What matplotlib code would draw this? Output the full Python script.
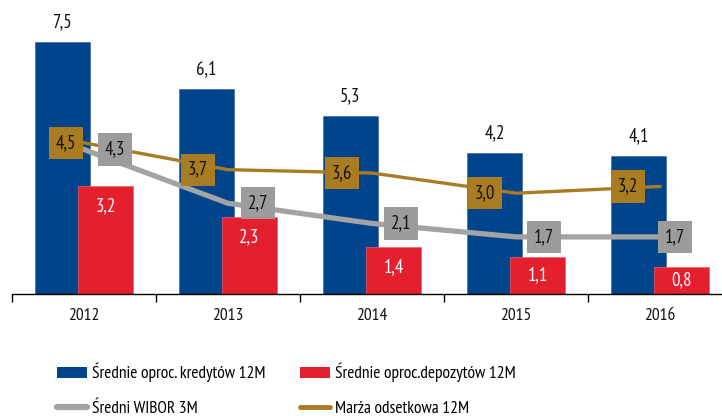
import matplotlib
matplotlib.use("Agg")
import matplotlib.pyplot as plt
from matplotlib.patches import Patch
from matplotlib.lines import Line2D

plt.rcParams['font.family'] = ['PT Sans Narrow', 'DejaVu Sans']

# === Data ===
years = ["2012", "2013", "2014", "2015", "2016"]
kredyty = [7.5, 6.1, 5.3, 4.2, 4.1]      # Średnie oproc. kredytów 12M
depozyty = [3.2, 2.3, 1.4, 1.1, 0.8]     # Średnie oproc. depozytów 12M
wibor = [4.3, 2.7, 2.1, 1.7, 1.7]        # Średni WIBOR 3M
marza = [4.5, 3.7, 3.6, 3.0, 3.2]        # Marża odsetkowa 12M

names = ["Średnie oproc. kredytów 12M", "Średni WIBOR 3M",
         "Średnie oproc.depozytów 12M", "Marża odsetkowa 12M"]

# === Colours ===
c_blue = '#00448b'
c_red = '#e4202f'
c_grey = '#a3a3a3'
c_grey_box = '#9c9c9c'
c_gold = '#a97c22'

# label shifts (pixels) for the value boxes on the lines
gold_dx = [-18, -30, -30, -31, -32]
grey_dx = [31, 30, 29, 28, 15]

fig = plt.figure(figsize=(7.22, 4.16), dpi=100)
ax = fig.add_axes([12 / 722, 122 / 416, 720 / 722, 285.6 / 416])

x = list(range(len(years)))
w = 0.38
xb = [i - 0.15 for i in x]
xr = [i + 0.15 for i in x]

ax.bar(xb, kredyty, width=w, color=c_blue, edgecolor='#3d6aa8', linewidth=0.5, zorder=1)
ax.bar(xr, depozyty, width=w, color=c_red, edgecolor='#f06070', linewidth=0.5, zorder=2)

ax.plot(x, wibor, color=c_grey, linewidth=3.8, zorder=3)
ax.plot(x, marza, color=c_gold, linewidth=2.4, zorder=4)

fs = 12.5      # axis / legend text
fv = 13.5      # value labels
fmt = lambda v: f"{v:.1f}".replace('.', ',')

for xi, v in zip(xb, kredyty):
    ax.annotate(fmt(v), (xi, v), xytext=(0, 20), textcoords='offset pixels',
                ha='center', va='center', fontsize=fv, color='#111111')

for xi, v in zip(xr, depozyty):
    yl = max(v / 2, v - 0.6)
    ax.text(xi, yl, fmt(v), ha='center', va='center', fontsize=fv, color='white', zorder=6)

for xi, v, dx in zip(x, marza, gold_dx):
    ax.annotate(fmt(v), (xi, v), xytext=(dx, 0), textcoords='offset pixels',
                ha='center', va='center', fontsize=fv, color='#111111', zorder=6,
                bbox=dict(boxstyle='square,pad=0.38', fc=c_gold, ec='none'))

for xi, v, dx in zip(x, wibor, grey_dx):
    ax.annotate(fmt(v), (xi, v), xytext=(dx, 0), textcoords='offset pixels',
                ha='center', va='center', fontsize=fv, color='#111111', zorder=6,
                bbox=dict(boxstyle='square,pad=0.38', fc=c_grey_box, ec='none'))

# === Axes formatting ===
ax.set_xlim(-0.5, 4.5)
ax.set_ylim(0, 8.5)
for s in ['top', 'right', 'left']:
    ax.spines[s].set_visible(False)
ax.spines['bottom'].set_linewidth(1.0)
ax.set_yticks([])
ax.set_xticks(x)
ax.set_xticklabels(years, fontsize=fs, color='#111111')
ax.set_xticks([i - 0.5 for i in range(len(years) + 1)], minor=True)
ax.tick_params(axis='x', which='major', length=0, pad=10)
ax.tick_params(axis='x', which='minor', length=6, width=1.0, direction='out')

# === Legend (two columns placed separately) ===
h_left = [Patch(facecolor=c_blue, edgecolor='none'),
          Line2D([], [], color=c_grey, linewidth=4.5, solid_capstyle='round')]
h_right = [Patch(facecolor=c_red, edgecolor='none'),
           Line2D([], [], color=c_gold, linewidth=3.5, solid_capstyle='round')]
leg_kw = dict(loc='upper left', frameon=False, fontsize=fs, borderpad=0, borderaxespad=0,
              handlelength=1.75, handleheight=0.65, handletextpad=0.25, labelspacing=1.05)
leg1 = fig.legend(h_left, names[:2], bbox_to_anchor=(57 / 722, 53 / 416), **leg_kw)
leg2 = fig.legend(h_right, names[2:], bbox_to_anchor=(300 / 722, 53 / 416), **leg_kw)

fig.savefig("out.png", dpi=100)
